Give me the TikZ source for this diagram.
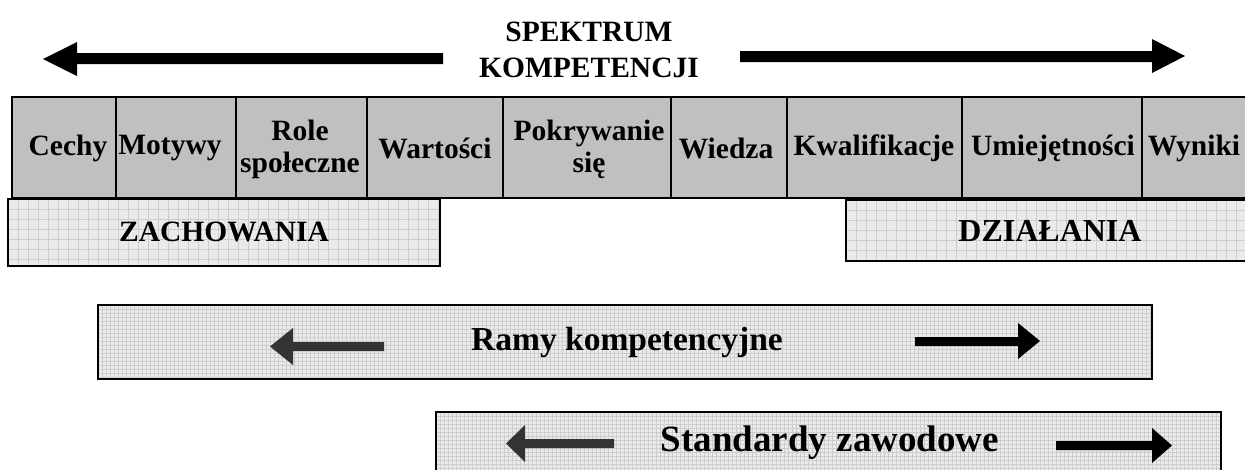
\documentclass[tikz,border=0pt]{standalone}
\usepackage{fontspec}
\setmainfont{Liberation Serif}
\definecolor{cellgray}{HTML}{C0C0C0}
\definecolor{boxfill}{HTML}{EAEAEA}
\definecolor{gridcol}{HTML}{CDCDCD}
\definecolor{darkarrow}{HTML}{333333}
\newcommand\mygridbox[5]{%
  \begin{scope}
    \clip (#1,#2) rectangle (#3,#4);
    \fill[boxfill] (#1,#2) rectangle (#3,#4);
    \pgfmathsetmacro\xnext{#1+#5}
    \pgfmathsetmacro\ynext{#2+#5}
    \foreach \xx in {#1,\xnext,...,#3} \draw[gridcol, line width=0.7pt] (\xx,#2) -- (\xx,#4);
    \foreach \yy in {#2,\ynext,...,#4} \draw[gridcol, line width=0.7pt] (#1,\yy) -- (#3,\yy);
  \end{scope}
  \draw[black, line width=2.5pt] (#1,#2) rectangle (#3,#4);
}
\begin{document}
\begin{tikzpicture}[x=1pt,y=-1pt,
  lbl/.style={font=\fontsize{29.5}{32}\selectfont\bfseries, align=center, inner sep=0pt},
  biglbl/.style={font=\fontsize{#1}{#1}\selectfont\bfseries, align=center, inner sep=0pt},
  cellbox/.style={draw=black, line width=2pt, fill=cellgray}]
\useasboundingbox (0,0) rectangle (1245,469);
\clip (0,0) rectangle (1245,469);
\fill[white] (0,0) rectangle (1245,469);

% title
\node[lbl, font=\fontsize{29.5}{36}\selectfont\bfseries] (title) at (589,50) {SPEKTRUM\\KOMPETENCJI};

% top arrows
\fill[black] (443,53) -- (77,53) -- (77,42) -- (43,59) -- (77,76) -- (77,64) -- (443,64) -- cycle;
\fill[black] (740,51) -- (1152,51) -- (1152,39) -- (1185,56) -- (1152,73) -- (1152,62) -- (740,62) -- cycle;

% cells
\foreach \a/\b in {12/116,116/236,236/367,367/503,503/671,671/787,787/962,962/1142,1142/1252}
  \draw[cellbox] (\a,97) rectangle (\b,198);

\node[lbl] (cechy) at (68,148) {Cechy};
\node[lbl] (motywy) at (170,148) {Motywy};
\node[lbl] (role) at (300,149) {Role\\społeczne};
\node[lbl] (wartosci) at (435,148) {Wartości};
\node[lbl] (pokryw) at (589,149) {Pokrywanie\\się};
\node[lbl] (wiedza) at (726,148) {Wiedza};
\node[lbl] (kwal) at (874,148) {Kwalifikacje};
\node[lbl] (umiej) at (1053,148) {Umiejętności};
\node[lbl] (wyniki) at (1194,148) {Wyniki};

% ZACHOWANIA / DZIALANIA
\mygridbox{8}{199}{440}{266}{10}
\node[lbl] (zach) at (224,232) {ZACHOWANIA};
\mygridbox{846}{200}{1252}{261}{10}
\node[biglbl=32] (dzial) at (1050,231) {DZIAŁANIA};

% Ramy kompetencyjne
\mygridbox{98}{305}{1152}{379}{4}
\node[biglbl=33.5] (ramy) at (627,342) {Ramy kompetencyjne};
\fill[darkarrow] (384,342) -- (293,342) -- (293,328) -- (270,346.5) -- (293,365) -- (293,351) -- (384,351) -- cycle;
\fill[black] (915,337) -- (1018,337) -- (1018,323) -- (1040,341) -- (1018,359) -- (1018,346) -- (915,346) -- cycle;

% Standardy zawodowe
\mygridbox{436}{412}{1221}{478}{4}
\node[biglbl=37] (stand) at (830,443) {Standardy zawodowe};
\fill[darkarrow] (614,439) -- (525,439) -- (525,425) -- (506,443.5) -- (525,462) -- (525,448) -- (614,448) -- cycle;
\fill[black] (1056,441) -- (1152,441) -- (1152,428) -- (1172,445.5) -- (1152,463) -- (1152,450) -- (1056,450) -- cycle;
\end{tikzpicture}
\end{document}
